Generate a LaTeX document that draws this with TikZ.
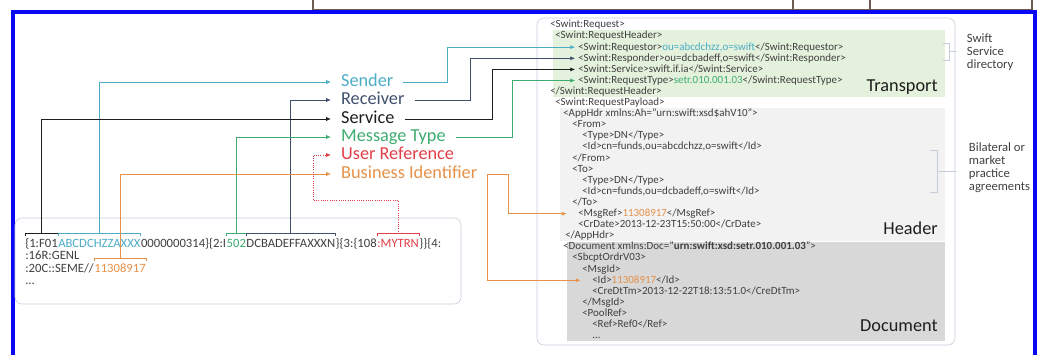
\documentclass[tikz,border=0pt]{standalone}
\usepackage{fontspec}
\setmainfont{Carlito}
\usepackage{xcolor}
\usetikzlibrary{positioning,arrows.meta}
\definecolor{sendc}{RGB}{75,172,198}
\definecolor{recvc}{RGB}{62,80,108}
\definecolor{servc}{RGB}{30,30,30}
\definecolor{mtc}{RGB}{62,172,112}
\definecolor{urc}{RGB}{226,62,72}
\definecolor{bic}{RGB}{230,145,72}
\definecolor{txtc}{RGB}{64,64,64}
\definecolor{boxc}{RGB}{196,204,216}
\definecolor{transc}{RGB}{228,241,220}
\definecolor{headc}{RGB}{242,242,242}
\definecolor{docc}{RGB}{216,216,216}
\definecolor{framec}{RGB}{8,8,245}
\definecolor{tblc}{RGB}{110,92,82}

\begin{document}
\begin{tikzpicture}[x=0.025cm, y=-0.025cm, >={Latex[length=3.5pt,width=3pt]},
  lbl/.style={anchor=west, inner xsep=7pt, inner ysep=0pt, text height=9pt, text depth=2.5pt, font=\fontsize{13}{13}\selectfont},
  seg/.style={inner sep=0pt, text height=9.3pt, text depth=2pt, text=txtc, font=\fontsize{9}{9}\selectfont},
  xml/.style={anchor=west, inner sep=0pt, text height=5.5pt, text depth=1.5pt, text=txtc, font=\fontsize{7.8}{8}\selectfont},
  band/.style={anchor=east, inner sep=0pt, text=servc, font=\fontsize{13}{13}\selectfont},
  note/.style={anchor=west, align=left, text=txtc, font=\fontsize{9}{9.2}\selectfont},
  link/.style={line width=0.6pt}]
\useasboundingbox (0,0) rectangle (1041,355);

% table edge above the frame and the blue frame
\draw[tblc, line width=0.8pt] (313,0) -- (313,9.5) -- (1032,9.5) -- (1032,0);
\draw[tblc, line width=0.8pt] (793,0) -- (793,9.5);
\draw[tblc, line width=0.8pt] (870,0) -- (870,9.5);
\draw[framec, line width=2.2pt] (13,355) -- (13,12) -- (1035,12) -- (1035,355);

% MX box with its three parts
\draw[boxc, fill=white, rounded corners=5pt] (537,18) rectangle (955,345);
\fill[transc] (553,30) rectangle (945,97);
\fill[headc] (560,108) rectangle (945,241);
\fill[docc] (567,242) rectangle (945,341);
\node[band] (transport) at (938,87) {Transport};
\node[band] (header) at (938,228) {Header};
\node[band] (document) at (938,326) {Document};

\node[xml] (x0) at (550,25) {<Swint:Request>};
\node[xml] (x1) at (555,36.1) {<Swint:RequestHeader>};
\node[xml] (x2) at (578,47.2) {<Swint:Requestor>{\color{sendc}ou=abcdchzz,o=swift}</Swint:Requestor>};
\node[xml] (x3) at (578,58.3) {<Swint:Responder>ou=dcbadeff,o=swift</Swint:Responder>};
\node[xml] (x4) at (578,69.4) {<Swint:Service>swift.if.ia</Swint:Service>};
\node[xml] (x5) at (578,80.5) {<Swint:RequestType>{\color{mtc}setr.010.001.03}</Swint:RequestType>};
\node[xml] (x6) at (550,91.6) {</Swint:RequestHeader>};
\node[xml] (x7) at (555,102.7) {<Swint:RequestPayload>};
\node[xml] (x8) at (563,113.8) {<AppHdr xmlns:Ah="urn:swift:xsd\$ahV10">};
\node[xml] (x9) at (572,124.9) {<From>};
\node[xml] (x10) at (582,136) {<Type>DN</Type>};
\node[xml] (x11) at (582,147.1) {<Id>cn=funds,ou=abcdchzz,o=swift</Id>};
\node[xml] (x12) at (572,158.2) {</From>};
\node[xml] (x13) at (572,169.3) {<To>};
\node[xml] (x14) at (582,180.4) {<Type>DN</Type>};
\node[xml] (x15) at (582,191.5) {<Id>cn=funds,ou=dcbadeff,o=swift</Id>};
\node[xml] (x16) at (572,202.6) {</To>};
\node[xml] (x17) at (578,213.7) {<MsgRef>{\color{bic}11308917}</MsgRef>};
\node[xml] (x18) at (578,224.8) {<CrDate>2013-12-23T15:50:00</CrDate>};
\node[xml] (x19) at (565,235.9) {</AppHdr>};
\node[xml] (x20) at (563,247) {<Document xmlns:Doc="\textbf{urn:swift:xsd:setr.010.001.03}">};
\node[xml] (x21) at (572,258.1) {<SbcptOrdrV03>};
\node[xml] (x22) at (582,269.2) {<MsgId>};
\node[xml] (x23) at (592,280.3) {<Id>{\color{bic}11308917}</Id>};
\node[xml] (x24) at (592,291.4) {<CreDtTm>2013-12-22T18:13:51.0</CreDtTm>};
\node[xml] (x25) at (582,302.5) {</MsgId>};
\node[xml] (x26) at (582,313.6) {<PoolRef>};
\node[xml] (x27) at (592,324.7) {<Ref>Ref0</Ref>};
\node[xml] (x28) at (592,335.8) {...};

% notes on the right
\node[note] (swiftdir) at (962,52) {Swift\\Service\\directory};
\node[note] (bilat) at (964,168) {Bilateral or\\market\\practice\\agreements};
\draw[boxc, line width=0.6pt] (943,43) -- (949,43) -- (949,60) -- (943,60);
\draw[boxc, line width=0.6pt, shorten >=4pt] (949,51.5) -- (swiftdir.west |- 0,51.5);
\draw[boxc, line width=0.6pt] (930,150) -- (937,150) -- (937,192) -- (930,192);
\draw[boxc, line width=0.6pt, shorten >=6pt] (937,171) -- (bilat.west |- 0,171);

% FIN message box
\draw[boxc, fill=white, rounded corners=5pt] (15,218) rectangle (461,304);
\node[seg, anchor=base west] (s1) at (25,247) {\{1:F01};
\node[seg, base right=0pt of s1, text=sendc] (s2) {ABCDCHZZAXXX};
\node[seg, base right=0pt of s2] (s3) {0000000314\}\{2:I};
\node[seg, base right=0pt of s3, text=mtc] (s4) {502};
\node[seg, base right=0pt of s4] (s5) {DCBADEFFAXXXN};
\node[seg, base right=0pt of s5] (s6) {\}\{3:\{108};
\node[seg, base right=0pt of s6, text=urc] (s7) {:MYTRN};
\node[seg, base right=0pt of s7] (s8) {\}\}\{4:};
\node[seg, anchor=base west] (t0) at (25,259.5) {:16R:GENL};
\node[seg, anchor=base west] (t1) at (25,272) {:20C::SEME//};
\node[seg, base right=0pt of t1, text=bic] (t2) {11308917};
\node[seg, anchor=base west] (t3) at (25,284.5) {...};

% brackets over the fields
\draw[servc, link] ([yshift=-2pt]s1.north west) -- (s1.north west) -- (s1.north east) -- ([yshift=-2pt]s1.north east);
\draw[sendc, link] ([yshift=-2pt]s2.north west) -- (s2.north west) -- (s2.north east) -- ([yshift=-2pt]s2.north east);
\draw[mtc, link] ([yshift=-2pt]s4.north west) -- (s4.north west) -- (s4.north east) -- ([yshift=-2pt]s4.north east);
\draw[recvc, link] ([yshift=-2pt]s5.north west) -- (s5.north west) -- (s5.north east) -- ([yshift=-2pt]s5.north east);
\draw[urc, link] ([yshift=-2pt]s7.north west) -- (s7.north west) -- (s7.north east) -- ([yshift=-2pt]s7.north east);
\draw[bic, link] ([yshift=-2pt]t2.north west) -- (t2.north west) -- (t2.north east) -- ([yshift=-2pt]t2.north east);

% field names
\node[lbl, text=sendc] (sender) at (331,82) {Sender};
\node[lbl, text=recvc] (receiver) at (331,100) {Receiver};
\node[lbl, text=servc] (service) at (331,119) {Service};
\node[lbl, text=mtc] (msgtype) at (331,137) {Message Type};
\node[lbl, text=urc] (userref) at (331,155) {User Reference};
\node[lbl, text=bic] (busid) at (331,174) {Business Identifier};

% from FIN fields to names
\draw[sendc, link, ->] (s2.north) |- (sender.west);
\draw[recvc, link, ->] (s5.north) |- (receiver.west);
\draw[servc, link, ->] (s1.north) |- (service.west);
\draw[mtc, link, ->] (s4.north) |- (msgtype.west);
\draw[bic, link, ->] (t2.north) |- (busid.west);
\coordinate (urk) at (313,200);
\draw[urc, link, densely dotted, ->] (s7.north) |- (urk) |- (userref.west);

% from names to MX elements
\coordinate (kS) at (447,0);
\coordinate (kR) at (470,0);
\coordinate (kV) at (492,0);
\coordinate (kM) at (512,0);
\coordinate (kB) at (508,0);
\draw[sendc, link, ->] (sender.east) -| (kS |- x2.west) -- ([xshift=-2pt]x2.west);
\draw[recvc, link, ->] (receiver.east) -| (kR |- x3.west) -- ([xshift=-2pt]x3.west);
\draw[servc, link, ->] (service.east) -| (kV |- x4.west) -- ([xshift=-2pt]x4.west);
\draw[mtc, link, ->] (msgtype.east) -| (kM |- x5.west) -- ([xshift=-2pt]x5.west);
\draw[bic, link, ->] (busid.east) -| (kB |- x17.west) -- ([xshift=-8pt]x17.west);
\draw[bic, link, ->] (busid.east) |- ([xshift=-8pt]x23.west);
\end{tikzpicture}
\end{document}
